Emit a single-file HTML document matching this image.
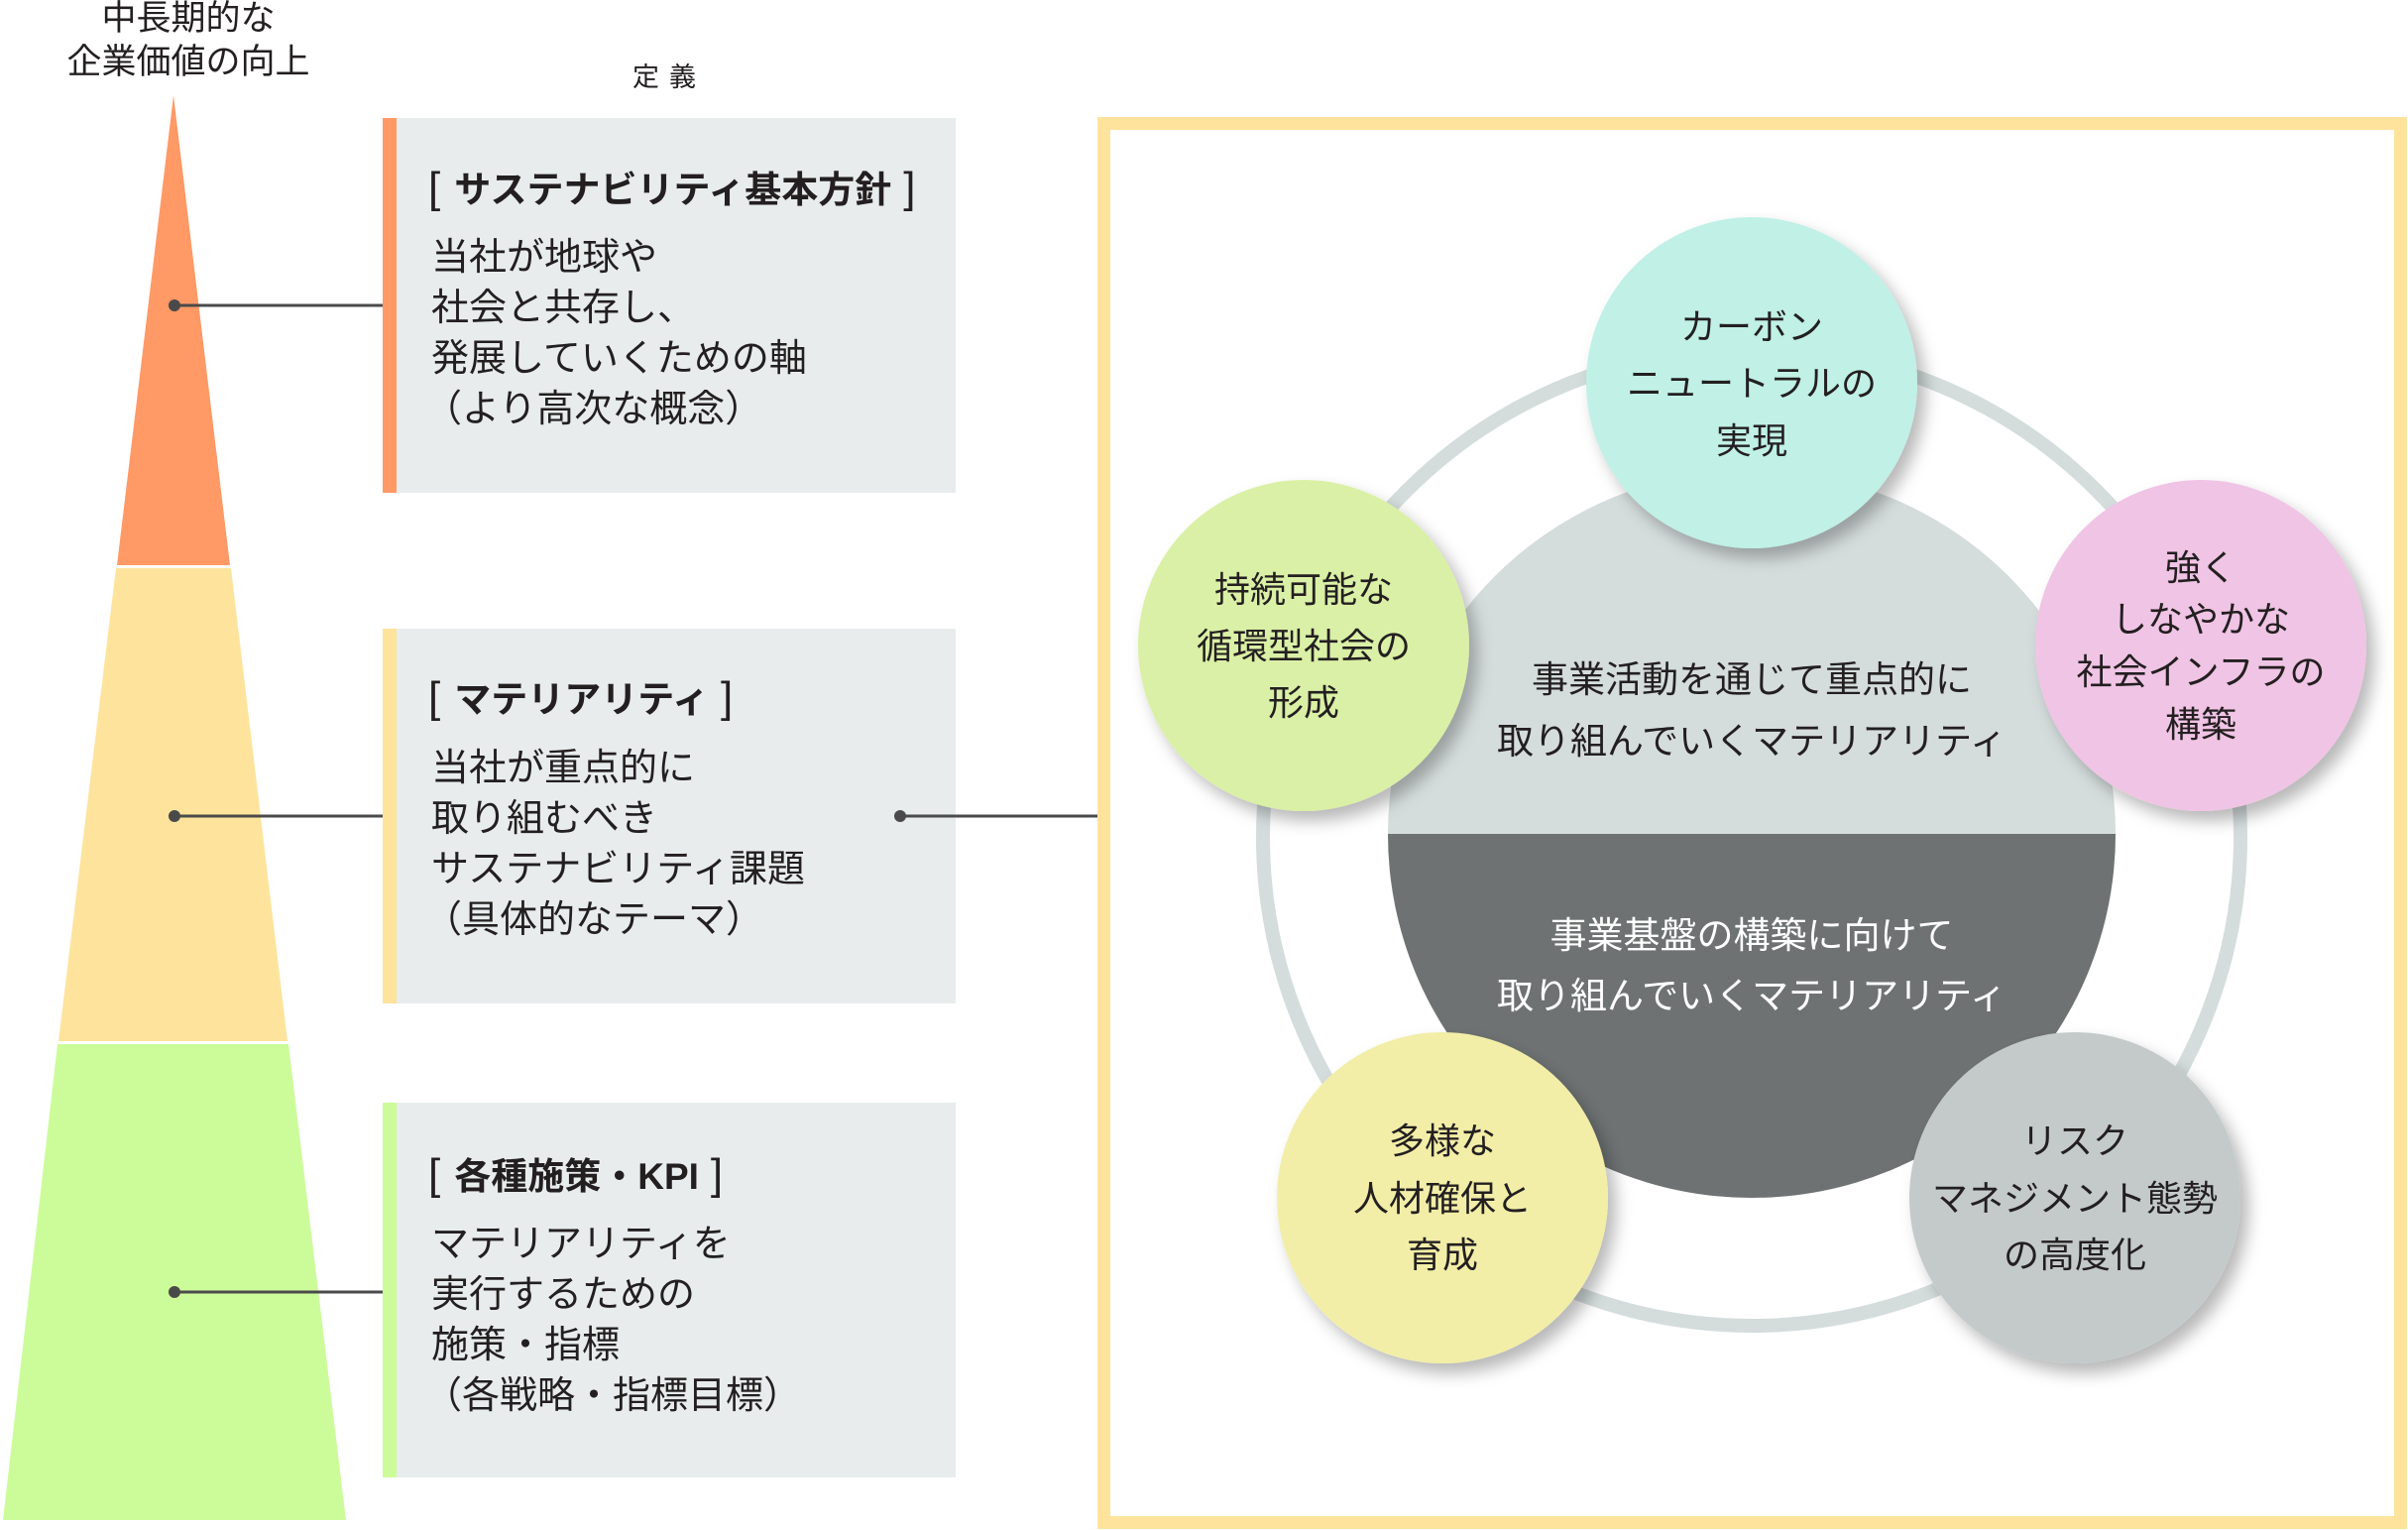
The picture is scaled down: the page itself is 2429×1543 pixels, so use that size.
<!DOCTYPE html>
<html><head><meta charset="utf-8"><style>
html,body{margin:0;padding:0;background:#fff;}
svg{display:block;}
text{font-family:"Liberation Sans","Noto Sans CJK JP",sans-serif;fill:#231f20;}
.b{font-weight:bold;}
</style></head><body>
<svg width="2429" height="1543" viewBox="0 0 2429 1543" xmlns="http://www.w3.org/2000/svg">
<defs>
<filter id="sh" x="-30%" y="-30%" width="160%" height="160%">
<feDropShadow dx="8" dy="10" stdDeviation="8" flood-color="#000" flood-opacity="0.28"/>
</filter>
</defs>
<!-- title -->
<text x="190" y="30" font-size="35" text-anchor="middle">中長期的な</text>
<text x="190" y="74" font-size="35" text-anchor="middle">企業価値の向上</text>
<text x="675" y="87" font-size="27" text-anchor="middle" letter-spacing="10">定義</text>

<!-- pyramid -->
<polygon points="175,96 232,570 118,570" fill="#FF9966"/>
<polygon points="117,573 233,573 290,1050 59,1050" fill="#FDE39C"/>
<polygon points="58,1053 291,1053 349,1533 3,1533" fill="#CCFC9A"/>

<!-- boxes -->
<rect x="386" y="119" width="578" height="378" fill="#E8ECEC"/>
<rect x="386" y="119" width="14" height="378" fill="#FF9966"/>
<rect x="386" y="634" width="578" height="378" fill="#E8ECEC"/>
<rect x="386" y="634" width="14" height="378" fill="#FDE39C"/>
<rect x="386" y="1112" width="578" height="378" fill="#E8ECEC"/>
<rect x="386" y="1112" width="14" height="378" fill="#CCFC9A"/>

<!-- connectors -->
<g stroke="#4a4a4a" stroke-width="3">
<line x1="175" y1="308" x2="386" y2="308"/>
<line x1="175" y1="823" x2="386" y2="823"/>
<line x1="175" y1="1303" x2="386" y2="1303"/>
<line x1="908" y1="823" x2="1112" y2="823"/>
</g>
<g fill="#4a4a4a">
<circle cx="176" cy="308" r="6"/><circle cx="176" cy="823" r="6"/><circle cx="176" cy="1303" r="6"/><circle cx="908" cy="823" r="6"/>
</g>

<g font-size="38">
<text x="432" y="204"><tspan font-size="44">[</tspan><tspan class="b" font-size="37" dx="14">サステナビリティ基本方針</tspan><tspan font-size="44" dx="12">]</tspan></text>
<text x="435" y="272">当社が地球や</text>
<text x="435" y="323">社会と共存し、</text>
<text x="435" y="374">発展していくための軸</text>
<text x="428" y="425">（より高次な概念）</text>

<text x="432" y="718"><tspan font-size="44">[</tspan><tspan class="b" font-size="37" dx="14">マテリアリティ</tspan><tspan font-size="44" dx="12">]</tspan></text>
<text x="435" y="787">当社が重点的に</text>
<text x="435" y="838">取り組むべき</text>
<text x="435" y="889">サステナビリティ課題</text>
<text x="428" y="940">（具体的なテーマ）</text>

<text x="432" y="1199"><tspan font-size="44">[</tspan><tspan class="b" font-size="37" dx="14">各種施策・KPI</tspan><tspan font-size="44" dx="12">]</tspan></text>
<text x="435" y="1267">マテリアリティを</text>
<text x="435" y="1318">実行するための</text>
<text x="435" y="1369">施策・指標</text>
<text x="428" y="1420">（各戦略・指標目標）</text>
</g>

<!-- frame -->
<rect x="1113.5" y="124.5" width="1308" height="1411" fill="none" stroke="#FDE39C" stroke-width="13"/>

<!-- ring -->
<circle cx="1767" cy="844" r="493" fill="none" stroke="#D4DCDC" stroke-width="14"/>
<!-- central -->
<path d="M1400,841 A367,367 0 0 1 2134,841 Z" fill="#D5DCDC"/>
<path d="M1400,841 A367,367 0 0 0 2134,841 Z" fill="#6E7272"/>
<g font-size="37" text-anchor="middle">
<text x="1767" y="698">事業活動を通じて重点的に</text>
<text x="1767" y="760">取り組んでいくマテリアリティ</text>
<text x="1767" y="956" style="fill:#fff">事業基盤の構築に向けて</text>
<text x="1767" y="1017" style="fill:#fff">取り組んでいくマテリアリティ</text>
</g>

<!-- small circles -->
<g filter="url(#sh)">
<circle cx="1767" cy="386" r="167" fill="#C0F0E6"/>
<circle cx="2220" cy="651" r="167" fill="#F0C4E4"/>
<circle cx="1315" cy="651" r="167" fill="#DAF0A6"/>
<circle cx="1455" cy="1208" r="167" fill="#F2EEA8"/>
<circle cx="2093" cy="1208" r="167" fill="#C4CACA"/>
</g>
<g font-size="36" text-anchor="middle">
<text x="1767" y="342">カーボン</text>
<text x="1767" y="399">ニュートラルの</text>
<text x="1767" y="457">実現</text>

<text x="2220" y="585">強く</text>
<text x="2220" y="637">しなやかな</text>
<text x="2220" y="690">社会インフラの</text>
<text x="2220" y="743">構築</text>

<text x="1315" y="607">持続可能な</text>
<text x="1315" y="664">循環型社会の</text>
<text x="1315" y="721">形成</text>

<text x="1455" y="1163">多様な</text>
<text x="1455" y="1221">人材確保と</text>
<text x="1455" y="1278">育成</text>

<text x="2093" y="1163">リスク</text>
<text x="2093" y="1221">マネジメント態勢</text>
<text x="2093" y="1278">の高度化</text>
</g>
</svg>
</body></html>
